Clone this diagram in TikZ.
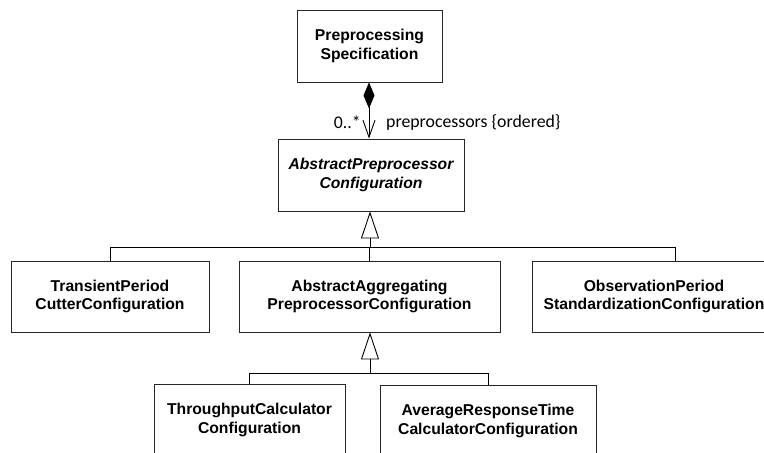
\documentclass[tikz,border=0pt]{standalone}
\usepackage{fontspec}
\setmainfont{Liberation Sans}
\newfontfamily\labelfont{Carlito}
\usetikzlibrary{arrows.meta}
\begin{document}
\begin{tikzpicture}[x=1pt,y=-1pt,
  cls/.style={draw=black!85, line width=0.9pt, fill=white, align=center,
    font=\fontsize{15.7}{18.5}\selectfont\bfseries, inner sep=0pt,
    minimum height=72pt},
  link/.style={draw=black, line width=0.9pt},
  gen/.style={link, -{Triangle[open, length=27pt, width=18pt, line width=0.9pt]}},
  rolelabel/.style={font=\labelfont\fontsize{17.8}{19}\selectfont, inner sep=0pt}]
\useasboundingbox (0,0) rectangle (764,453);
\clip (0,0) rectangle (764,453);

% classes
\node[cls, minimum width=145pt] (spec) at (369.5,46) {Preprocessing\\Specification};
\node[cls, minimum width=186pt, font=\fontsize{15.7}{18.5}\selectfont\bfseries\itshape]
  (abs) at (371,175) {AbstractPreprocessor\\Configuration};
\node[cls, minimum width=198pt, minimum height=71pt] (trans) at (110,296.5) {TransientPeriod\\CutterConfiguration};
\node[cls, minimum width=261pt, minimum height=71pt] (agg) at (369.5,296.5) {AbstractAggregating\\PreprocessorConfiguration};
\node[cls, minimum width=244pt, minimum height=71pt] (obs) at (654,296.5) {ObservationPeriod\\StandardizationConfiguration};
\node[cls, minimum width=191pt] (thr) at (249.5,420) {ThroughputCalculator\\Configuration};
\node[cls, minimum width=216pt] (avg) at (488,421) {AverageResponseTime\\CalculatorConfiguration};

% composition
\draw[link, {Diamond[length=26pt, width=11pt]}-{Straight Barb[length=17pt, width=12pt, line width=0.9pt]}]
  (spec.south -| 369,0) -- (abs.north -| 369,0);
\node[rolelabel, anchor=east] (mult) at (361,122) {0..*};
\node[rolelabel, anchor=west] (role) at (386,122) {preprocessors \{ordered\}};

% generalization, first level
\coordinate (bar1) at (370,247);
\coordinate (obsin) at (675,261);
\draw[link] (trans.north) -- (trans.north |- bar1) -- (obsin |- bar1) -- (obsin);
\draw[link] (agg.north) -- (agg.north |- bar1);
\draw[gen] (bar1) -- (abs.south -| bar1);

% generalization, second level
\coordinate (bar2) at (370,373);
\draw[link] (thr.north) -- (thr.north |- bar2) -- (avg.north |- bar2) -- (avg.north);
\draw[gen] (bar2) -- (agg.south -| bar2);
\end{tikzpicture}
\end{document}
